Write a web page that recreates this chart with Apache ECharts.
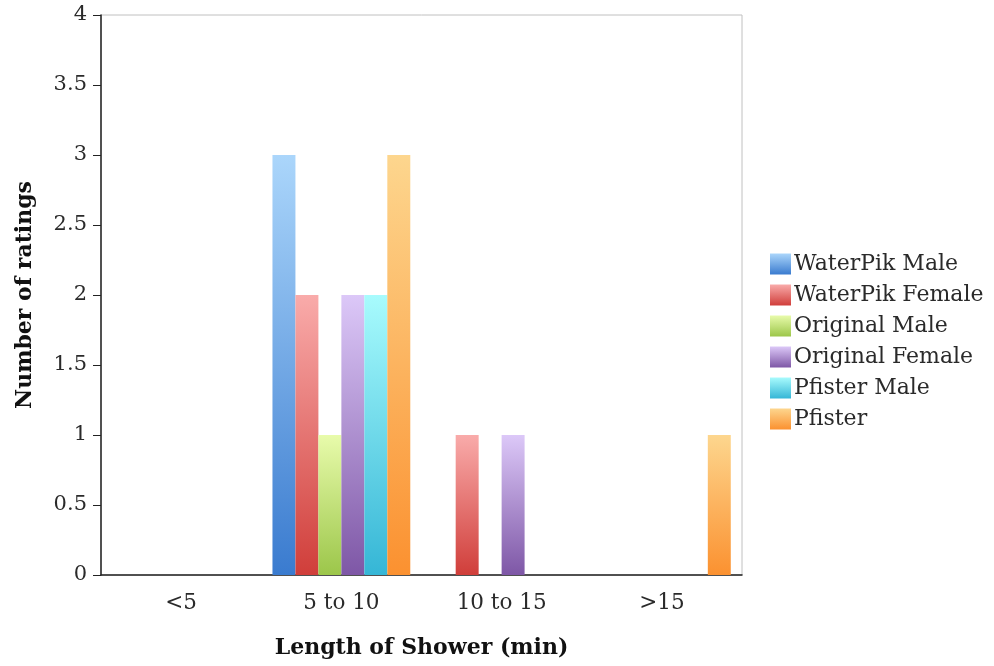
<!DOCTYPE html>
<html>
<head>
<meta charset="utf-8">
<script src="https://cdn.jsdelivr.net/npm/echarts@6/dist/echarts.min.js"></script>
<style>
    html, body {margin: 0; padding: 0; background: #fff;}
    #chart {width: 994px; height: 666px;}
</style>
</head>
<body>
<div id="chart"></div>
<script>
// data
const categories = ['<5', '5 to 10', '10 to 15', '>15'];
const seriesNames = ['WaterPik Male', 'WaterPik Female', 'Original Male', 'Original Female', 'Pfister Male', 'Pfister'];
const waterPikMale = [0, 3, 0, 0];
const waterPikFemale = [0, 2, 1, 0];
const originalMale = [0, 1, 0, 0];
const originalFemale = [0, 2, 1, 0];
const pfisterMale = [0, 2, 0, 0];
const pfister = [0, 3, 0, 1];
const yTicks = [0, 4, 0.5]; // min, max, step

const values = [waterPikMale, waterPikFemale, originalMale, originalFemale, pfisterMale, pfister];
// top (light) and bottom (dark) colours of each bar gradient
const topColors = ['#abd6fb', '#f9abaa', '#e8fbab', '#dcc8f8', '#a8fbfd', '#fdd68e'];
const bottomColors = ['#3a7bcf', '#d03e3a', '#9cc64a', '#7e57a6', '#35b6d6', '#fb9130'];

const font = 'DejaVu Serif';

let chart = echarts.init(document.getElementById('chart'));

let series = [];
for (let i = 0; i < seriesNames.length; i++) {
    series.push({
        name: seriesNames[i],
        type: 'bar',
        data: values[i],
        barGap: '0%',
        barCategoryGap: '14%',
        itemStyle: {
            color: {
                type: 'linear', x: 0, y: 0, x2: 0, y2: 1,
                colorStops: [
                    {offset: 0, color: topColors[i]},
                    {offset: 1, color: bottomColors[i]}
                ]
            }
        }
    });
}

chart.setOption({
    animation: false,
    textStyle: {fontFamily: font},
    grid: {
        left: 101, right: 252, top: 15, bottom: 91,
        show: true, borderColor: '#c0c0c0', borderWidth: 1
    },
    legend: {
        orient: 'vertical',
        left: 770,
        top: 253,
        padding: 0,
        itemWidth: 21,
        itemHeight: 21,
        itemGap: 9,
        icon: 'rect',
        textStyle: {fontFamily: font, fontSize: 22, lineHeight: 21, color: '#2a2a2a', padding: [0, 0, 0, -2]}
    },
    xAxis: {
        type: 'category',
        data: categories,
        name: 'Length of Shower (min)',
        nameLocation: 'middle',
        nameGap: 62,
        nameTextStyle: {fontFamily: font, fontSize: 22, fontWeight: 'bold', color: '#111'},
        axisLine: {lineStyle: {color: '#222', width: 1.5}},
        axisTick: {length: 8, lineStyle: {color: '#222'}},
        axisLabel: {fontSize: 21.5, color: '#2a2a2a', margin: 17}
    },
    yAxis: {
        type: 'value',
        min: yTicks[0],
        max: yTicks[1],
        interval: yTicks[2],
        name: 'Number of ratings',
        nameLocation: 'middle',
        nameGap: 65,
        nameTextStyle: {fontFamily: font, fontSize: 22, fontWeight: 'bold', color: '#111'},
        axisLine: {show: true, lineStyle: {color: '#222', width: 1.5}},
        axisTick: {show: true, length: 8, lineStyle: {color: '#222'}},
        axisLabel: {fontSize: 21, color: '#2a2a2a', margin: 14},
        splitLine: {show: false}
    },
    series: series
});
</script>
</body>
</html>
